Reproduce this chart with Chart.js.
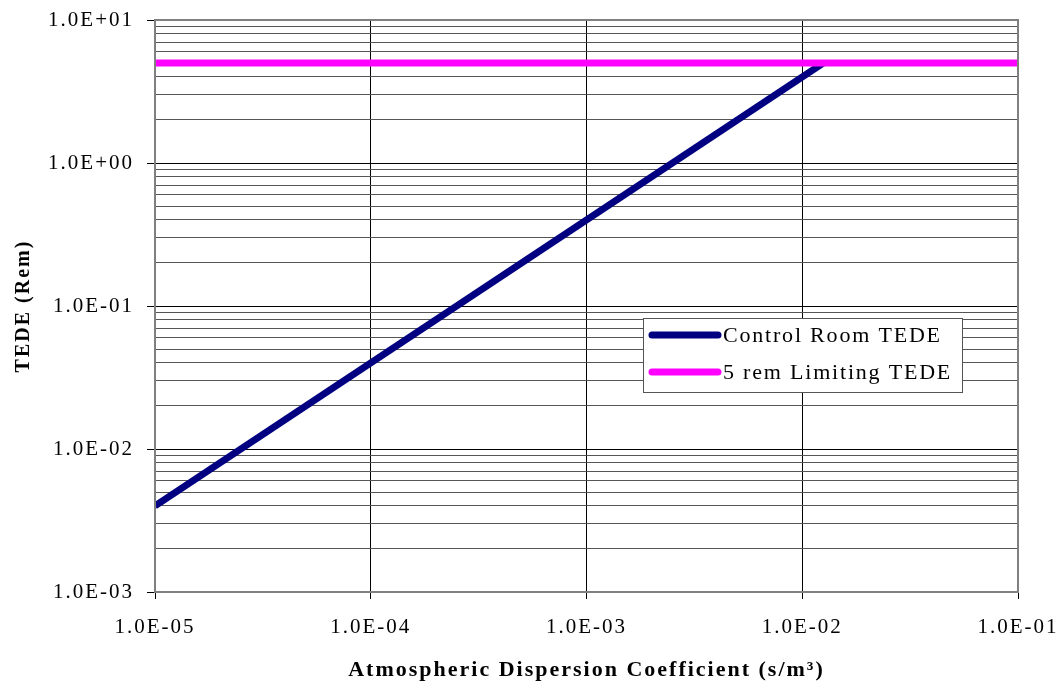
<!DOCTYPE html>
<html>
<head>
<meta charset="utf-8">
<script src="https://cdn.jsdelivr.net/npm/chart.js@4/dist/chart.umd.min.js"></script>
<style>
  html, body { margin: 0; padding: 0; background: #fff; }
</style>
</head>
<body>
<canvas id="chart" width="1061" height="688"></canvas>
<script>
// control room dose vs chi/Q, plus the 5 rem limit
const dispersion = [1e-5, 1.25e-2];
const controlRoomTede = [0.004, 5];
const limitDispersion = [1e-5, 1e-1];
const limitTede = [5, 5];

const xTicks = [1e-5, 1e-4, 1e-3, 1e-2, 1e-1];
const yDecades = [1e-3, 1e-2, 1e-1, 1e0, 1e1];
const legendLabels = ['Control Room TEDE', '5 rem Limiting TEDE'];
const colors = ['#000080', '#FF00FF'];

const serif = "'Liberation Serif', 'DejaVu Serif', serif";

function isDecade(v) {
    const l = Math.log10(v);
    return Math.abs(l - Math.round(l)) < 1e-9;
}
function fmt(v) {
    const e = Math.round(Math.log10(v));
    return '1.0E' + (e < 0 ? '-' : '+') + String(Math.abs(e)).padStart(2, '0');
}

// every 1..9 x 10^n for the y grid
const yTicks = [];
yDecades.forEach((d, i) => {
    if (i === yDecades.length - 1) { yTicks.push(d); return; }
    for (let m = 1; m <= 9; m++) yTicks.push(m * d);
});

// the original text is spaced out a bit
const spacing = {
    id: 'spacing',
    beforeUpdate(chart) { chart.ctx.letterSpacing = '2px'; },
    beforeDraw(chart) { chart.ctx.letterSpacing = '2px'; }
};

const frame = {
    id: 'frame',
    afterDatasetsDraw(chart) {
        const { ctx, chartArea: a } = chart;
        ctx.save();
        ctx.strokeStyle = '#808080';
        ctx.lineWidth = 2;
        ctx.strokeRect(a.left, a.top, a.right - a.left, a.bottom - a.top);
        ctx.restore();
    }
};

const boxLegend = {
    id: 'boxLegend',
    afterDraw(chart) {
        const { ctx } = chart;
        const x = 643, y = 318, w = 319, h = 74;
        ctx.save();
        ctx.fillStyle = '#fff';
        ctx.fillRect(x, y, w, h);
        ctx.strokeStyle = '#555';
        ctx.lineWidth = 1;
        ctx.strokeRect(x + 0.5, y + 0.5, w, h);
        ctx.font = '22px ' + serif;
        ctx.textBaseline = 'middle';
        ctx.textAlign = 'left';
        ctx.letterSpacing = '1.8px';
        legendLabels.forEach((lbl, i) => {
            const ly = y + 17 + i * 37;
            ctx.strokeStyle = colors[i];
            ctx.lineWidth = 7;
            ctx.lineCap = 'round';
            ctx.beginPath();
            ctx.moveTo(652, ly);
            ctx.lineTo(718, ly);
            ctx.stroke();
            ctx.fillStyle = '#000';
            ctx.fillText(lbl, 723, ly + 1);
        });
        ctx.restore();
    }
};

function noEdgePadding(s) {
    s.paddingLeft = 0;
    s.paddingRight = 0;
    s.paddingTop = 0;
    s.paddingBottom = 0;
}

new Chart(document.getElementById('chart'), {
    type: 'scatter',
    data: {
        datasets: [
            {
                label: legendLabels[1],
                data: limitDispersion.map((x, i) => ({ x: x, y: limitTede[i] })),
                showLine: true,
                borderColor: colors[1],
                borderWidth: 7,
                pointRadius: 0
            },
            {
                label: legendLabels[0],
                data: dispersion.map((x, i) => ({ x: x, y: controlRoomTede[i] })),
                showLine: true,
                borderColor: colors[0],
                borderWidth: 7,
                pointRadius: 0
            }
        ]
    },
    options: {
        responsive: false,
        animation: false,
        layout: { padding: { left: 0, right: 43, top: 20, bottom: 0 } },
        plugins: {
            legend: { display: false },
            tooltip: { enabled: false }
        },
        scales: {
            x: {
                type: 'logarithmic',
                min: 1e-5,
                max: 1e-1,
                afterBuildTicks: s => { s.ticks = xTicks.map(v => ({ value: v })); },
                afterFit: s => { s.height = 96; noEdgePadding(s); },
                border: { display: false },
                grid: { color: '#000', lineWidth: 1, tickLength: 7, tickColor: '#000' },
                ticks: {
                    callback: v => fmt(v),
                    color: '#000',
                    font: { family: serif, size: 21 },
                    padding: 16,
                    maxRotation: 0,
                    autoSkip: false
                },
                title: {
                    display: true,
                    text: 'Atmospheric Dispersion Coefficient (s/m\u00B3)',
                    color: '#000',
                    font: { family: serif, size: 22, weight: 'bold' },
                    padding: { top: 6, bottom: 4 }
                }
            },
            y: {
                type: 'logarithmic',
                min: 1e-3,
                max: 1e1,
                afterBuildTicks: s => { s.ticks = yTicks.map(v => ({ value: v })); },
                afterFit: s => { s.width = 155; noEdgePadding(s); },
                border: { display: false },
                grid: {
                    color: c => isDecade(c.tick.value) ? '#000' : '#555',
                    lineWidth: 1,
                    tickLength: 8,
                    tickColor: c => isDecade(c.tick.value) ? '#000' : 'rgba(0,0,0,0)'
                },
                ticks: {
                    callback: v => isDecade(v) ? fmt(v) : '',
                    color: '#000',
                    font: { family: serif, size: 21 },
                    padding: 13,
                    autoSkip: false
                },
                title: {
                    display: true,
                    text: 'TEDE (Rem)',
                    color: '#000',
                    font: { family: serif, size: 20, weight: 'bold' },
                    padding: { top: 12, bottom: 4 }
                }
            }
        }
    },
    plugins: [spacing, frame, boxLegend]
});
</script>
</body>
</html>
